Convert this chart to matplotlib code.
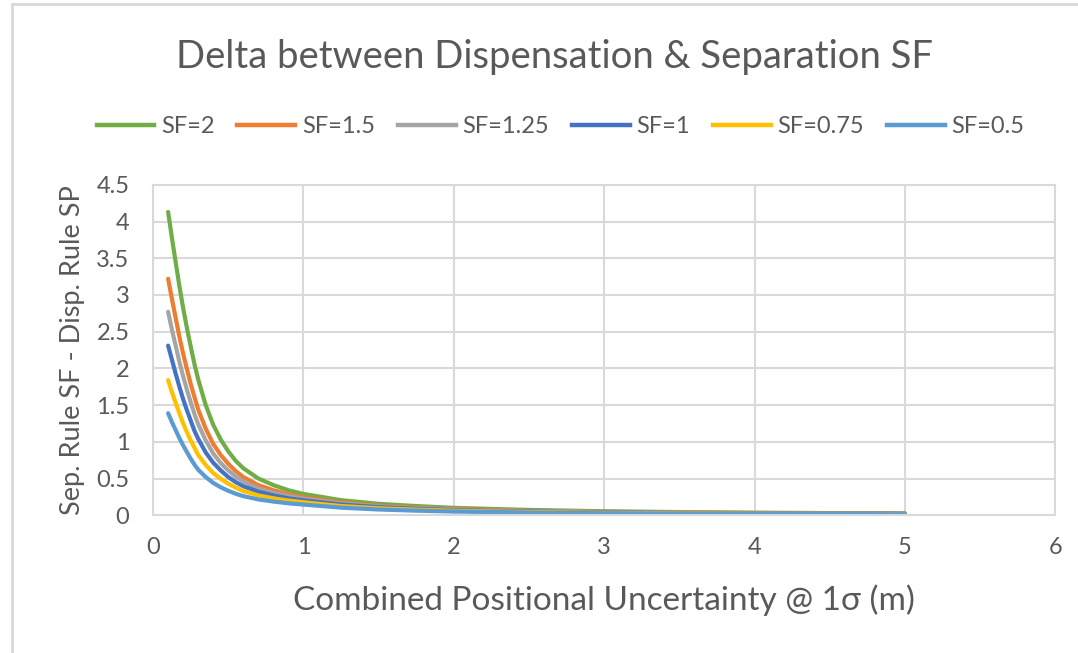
import numpy as np
import matplotlib
matplotlib.use("Agg")
import matplotlib.pyplot as plt
from matplotlib.lines import Line2D

plt.rcParams['font.family'] = ['Lato', 'DejaVu Sans']

x = [0.1, 0.125, 0.15, 0.175, 0.2, 0.225, 0.25, 0.275, 0.3, 0.35, 0.4, 0.45,
     0.5, 0.55, 0.6, 0.7, 0.8, 0.9, 1.0, 1.25, 1.5, 1.75, 2.0, 2.5, 3.0,
     3.5, 4.0, 4.5, 5.0]

sf_2 = [4.13, 3.78, 3.45, 3.12, 2.82, 2.55, 2.30, 2.06, 1.85, 1.50, 1.23, 1.03,
        0.87, 0.74, 0.64, 0.50, 0.41, 0.34, 0.29, 0.205, 0.155, 0.125, 0.10,
        0.072, 0.054, 0.043, 0.035, 0.029, 0.025]
sf_15 = [3.22, 2.95, 2.69, 2.43, 2.20, 1.99, 1.79, 1.61, 1.44, 1.18, 0.97, 0.82,
         0.70, 0.60, 0.52, 0.41, 0.34, 0.285, 0.245, 0.175, 0.13, 0.105, 0.085,
         0.061, 0.046, 0.037, 0.030, 0.025, 0.021]
sf_125 = [2.77, 2.53, 2.31, 2.09, 1.89, 1.71, 1.54, 1.38, 1.24, 1.02, 0.84, 0.71,
          0.61, 0.525, 0.46, 0.365, 0.305, 0.26, 0.225, 0.16, 0.12, 0.097, 0.078,
          0.056, 0.042, 0.034, 0.027, 0.023, 0.020]
sf_1 = [2.31, 2.12, 1.93, 1.75, 1.58, 1.43, 1.29, 1.15, 1.04, 0.855, 0.715, 0.61,
        0.52, 0.45, 0.395, 0.32, 0.27, 0.23, 0.203, 0.145, 0.11, 0.088, 0.07,
        0.05, 0.038, 0.030, 0.025, 0.021, 0.018]
sf_075 = [1.84, 1.68, 1.53, 1.39, 1.25, 1.13, 1.02, 0.92, 0.82, 0.685, 0.575, 0.495,
          0.43, 0.375, 0.33, 0.27, 0.23, 0.20, 0.177, 0.125, 0.095, 0.076, 0.061,
          0.044, 0.033, 0.026, 0.021, 0.018, 0.015]
sf_05 = [1.39, 1.27, 1.16, 1.05, 0.95, 0.86, 0.77, 0.69, 0.62, 0.52, 0.44, 0.38,
         0.333, 0.292, 0.26, 0.215, 0.186, 0.162, 0.145, 0.103, 0.078, 0.062, 0.05,
         0.036, 0.027, 0.022, 0.018, 0.015, 0.013]

labels = ['SF=2', 'SF=1.5', 'SF=1.25', 'SF=1', 'SF=0.75', 'SF=0.5']
series = [sf_2, sf_15, sf_125, sf_1, sf_075, sf_05]
colors = ['#70AD47', '#ED7D31', '#A5A5A5', '#4472C4', '#FFC000', '#5B9BD5']

fig = plt.figure(figsize=(10.78, 6.53), dpi=100)
ax = fig.add_axes([0.142, 0.211, 0.837, 0.506])

for ys, c in zip(series, colors):
    ax.plot(x, ys, color=c, lw=3.0, solid_capstyle='round', solid_joinstyle='round')

ax.set_xlim(0, 6)
ax.set_ylim(0, 4.5)
ax.set_xticks(np.arange(0, 7, 1))
ax.set_yticks(np.arange(0, 4.6, 0.5))
ax.set_yticklabels(['0', '0.5', '1', '1.5', '2', '2.5', '3', '3.5', '4', '4.5'])
ax.grid(color='#D9D9D9', lw=1.5)
ax.set_axisbelow(True)
for s in ax.spines.values():
    s.set_color('#D9D9D9')
    s.set_linewidth(1.5)
ax.tick_params(length=0, labelsize=17, colors='#595959')
ax.tick_params(axis='x', pad=16)
ax.tick_params(axis='y', pad=17)

ax.set_xlabel('Combined Positional Uncertainty @ 1σ (m)', fontsize=24,
              color='#595959', labelpad=19)
ax.set_ylabel('Sep. Rule SF - Disp. Rule SP', fontsize=19.5,
              color='#595959', labelpad=8)

fig.text(0.514, 0.913, 'Delta between Dispensation & Separation SF',
         ha='center', va='center', fontsize=27.5, color='#595959')

handles = [Line2D([0], [0], color=c, lw=3.2) for c in colors]
fig.legend(handles, labels, loc='center', bbox_to_anchor=(0.52, 0.806),
           ncol=6, frameon=False, fontsize=17, handlelength=2.45,
           columnspacing=0.95, handletextpad=0.3, labelcolor='#595959')

# chart area border (left and top edges visible)
fig.add_artist(Line2D([0.011, 0.011], [0, 0.994], color='#D9D9D9', lw=2,
                      transform=fig.transFigure))
fig.add_artist(Line2D([0.011, 1], [0.994, 0.994], color='#D9D9D9', lw=2,
                      transform=fig.transFigure))

fig.savefig('out.png', dpi=100)
